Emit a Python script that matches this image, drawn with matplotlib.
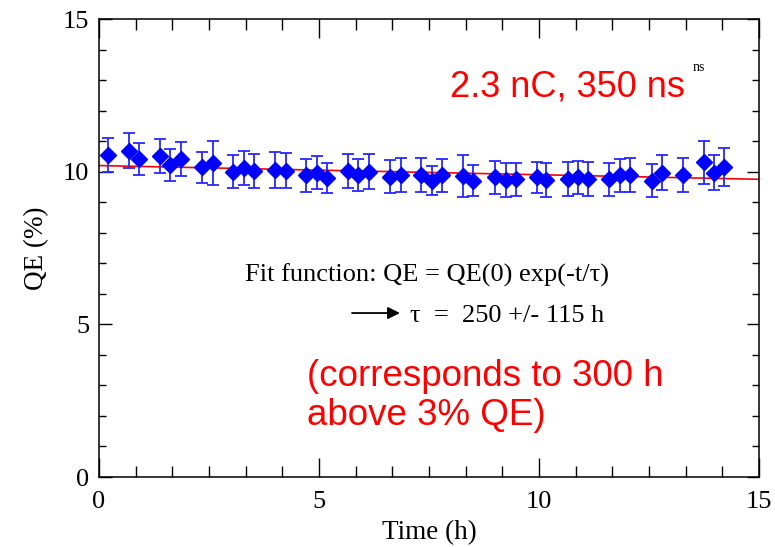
"""QE lifetime plot: QE vs time with exponential fit."""

import matplotlib
matplotlib.use("Agg")
import matplotlib.pyplot as plt
from matplotlib.ticker import MultipleLocator

t_h = [0.21, 0.68, 0.92, 1.39, 1.61, 1.86, 2.35, 2.58, 3.05, 3.30, 3.53,
       4.00, 4.25, 4.70, 4.95, 5.19, 5.67, 5.89, 6.14, 6.61, 6.86, 7.32,
       7.56, 7.80, 8.27, 8.51, 9.00, 9.24, 9.48, 9.95, 10.17, 10.65, 10.88,
       11.12, 11.60, 11.84, 12.07, 12.56, 12.80, 13.27, 13.75, 13.98, 14.20]
qe = [10.55, 10.69, 10.41, 10.51, 10.22, 10.41, 10.14, 10.27, 10.00, 10.11,
      10.02, 10.06, 10.03, 9.89, 9.97, 9.78, 10.02, 9.89, 10.00, 9.84, 9.89,
      9.89, 9.71, 9.89, 9.86, 9.70, 9.81, 9.73, 9.75, 9.81, 9.73, 9.75, 9.81,
      9.76, 9.75, 9.89, 9.88, 9.71, 9.97, 9.89, 10.31, 9.97, 10.16]
qe_err = [0.56, 0.57, 0.52, 0.56, 0.51, 0.56, 0.51, 0.72, 0.53, 0.56, 0.57,
          0.60, 0.58, 0.54, 0.55, 0.49, 0.57, 0.51, 0.58, 0.54, 0.56, 0.56,
          0.49, 0.54, 0.68, 0.51, 0.55, 0.56, 0.55, 0.52, 0.55, 0.56, 0.54,
          0.55, 0.55, 0.54, 0.56, 0.53, 0.57, 0.57, 0.71, 0.57, 0.63]

# fit curve end points
fit_t = [0, 15]
fit_qe = [10.20, 9.75]

SERIF = ["Liberation Serif", "DejaVu Serif"]
SANS = ["Liberation Sans", "DejaVu Sans"]

plt.rcParams["font.family"] = SERIF

fig = plt.figure(figsize=(7.75, 5.47), dpi=100)
ax = fig.add_axes([99 / 775, 70 / 547, 660 / 775, 458 / 547])

ax.plot(fit_t, fit_qe, color="red", lw=1.2, zorder=2)
ax.errorbar(t_h, qe, yerr=qe_err, fmt="D", color="#0000ff", ecolor="#2828ff",
            ms=8.5, elinewidth=1.3, capsize=4.3, capthick=1.3, zorder=3)

ax.set_xlim(0, 15)
ax.set_ylim(0, 15)
ax.xaxis.set_major_locator(MultipleLocator(5))
ax.xaxis.set_minor_locator(MultipleLocator(5 / 6))
ax.yaxis.set_major_locator(MultipleLocator(5))
ax.yaxis.set_minor_locator(MultipleLocator(1))
ax.tick_params(which="both", direction="in", top=True, right=True,
               labelsize=19, width=1.0)
ax.tick_params(axis="x", which="major", length=14, pad=10)
ax.tick_params(axis="x", which="minor", length=8)
ax.tick_params(axis="y", which="major", length=9, pad=7)
ax.tick_params(axis="y", which="minor", length=5)
for sp in ax.spines.values():
    sp.set_linewidth(1.1)

ax.set_xlabel("Time (h)", fontsize=19.5, labelpad=5)
ax.set_ylabel("QE (%)", fontsize=19.5, labelpad=10)

ax.text(7.98, 12.45, "2.3 nC, 350 ns", color="red", fontsize=26,
        family=SANS, va="baseline")
ax.text(13.5, 13.3, "ns", color="black", fontsize=10, va="baseline")

ax.text(3.32, 6.39, "Fit function: QE = QE(0) exp(-t/\u03c4)", fontsize=19,
        va="baseline")
ax.annotate("", xy=(6.84, 5.37), xytext=(5.75, 5.37),
            arrowprops=dict(arrowstyle="-|>", color="black", lw=1.3,
                            mutation_scale=18, shrinkA=0, shrinkB=0))
ax.text(7.07, 5.08, "\u03c4  =  250 +/- 115 h", fontsize=19, va="baseline")

ax.text(4.73, 2.98, "(corresponds to 300 h", color="red", fontsize=26.5,
        family=SANS, va="baseline")
ax.text(4.73, 1.70, "above 3% QE)", color="red", fontsize=26.5,
        family=SANS, va="baseline")

fig.savefig("out.png", dpi=100)
